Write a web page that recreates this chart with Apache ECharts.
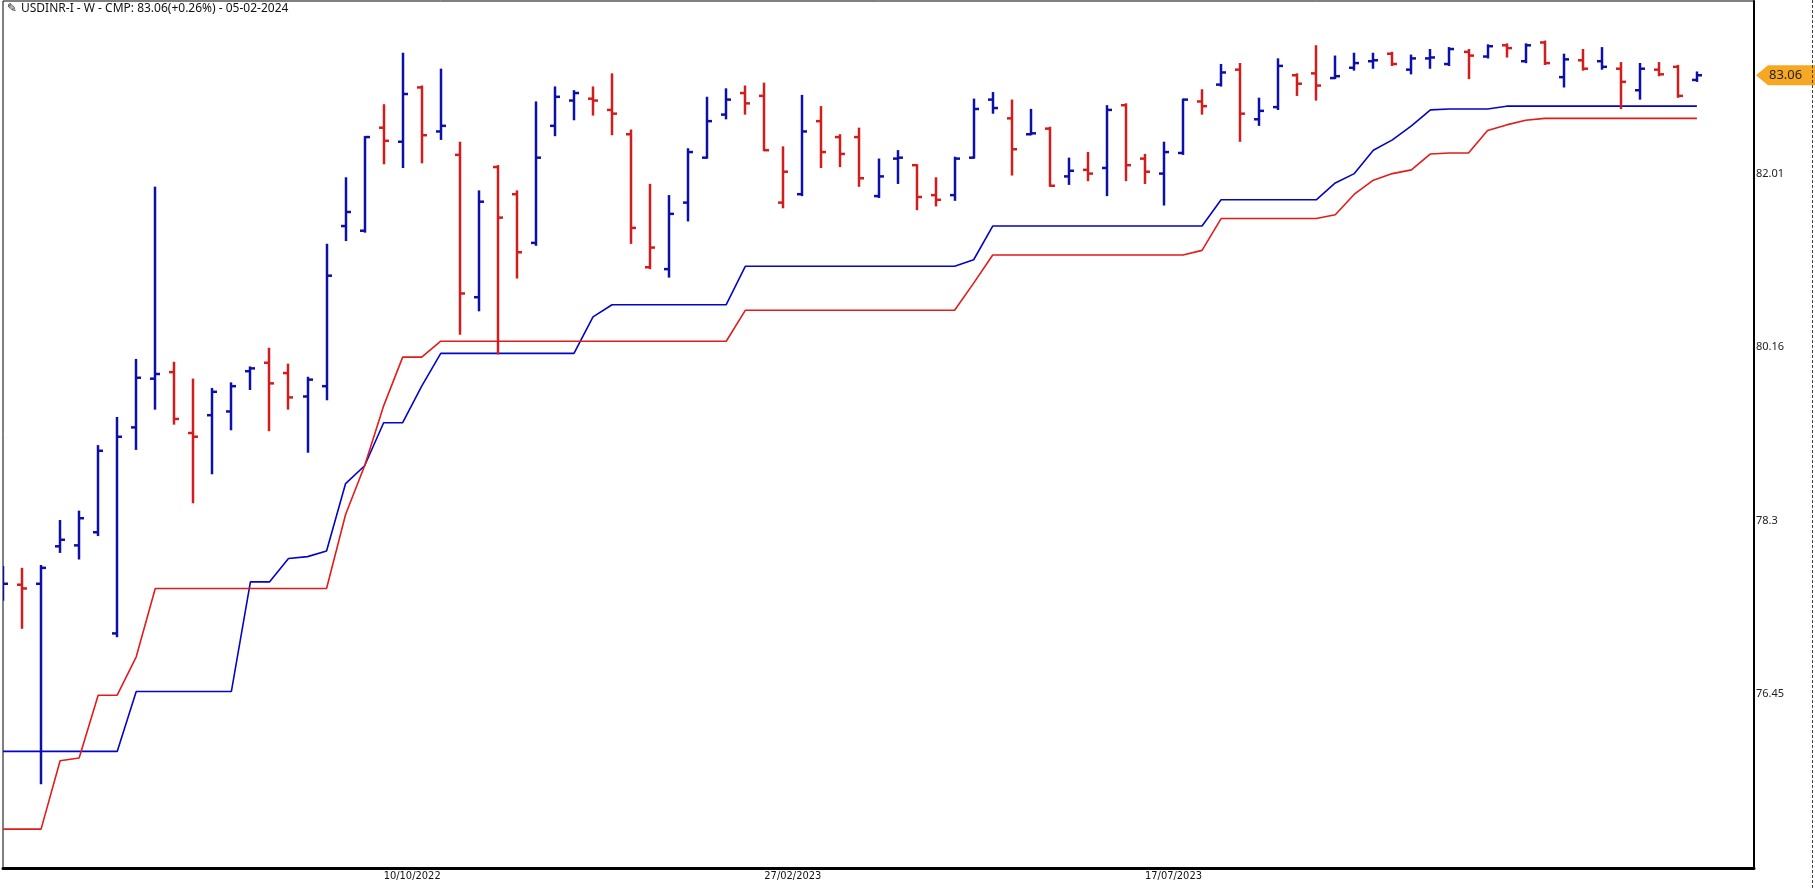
<!DOCTYPE html>
<html>
<head>
<meta charset="utf-8">
<title>USDINR-I - W</title>
<script src="https://cdn.jsdelivr.net/npm/echarts@6/dist/echarts.min.js"></script>
<style>
html, body { margin: 0; padding: 0; background: #fff; }
#main { width: 1815px; height: 890px; }
</style>
</head>
<body>
<div id="main"></div>
<script>
// weekly OHLC, first bar = week of 23/05/2022
var opens = [77.55, 77.62, 77.63, 78.03, 78.04, 78.18, 77.10, 79.30, 79.82, 79.89,
  79.24, 79.43, 79.47, 79.90, 79.99, 79.88, 79.63, 79.74, 81.45, 81.40,
  82.50, 82.35, 82.93, 82.46, 82.21, 80.69, 82.08, 81.79, 81.27, 82.52,
  82.79, 82.81, 82.69, 82.43, 81.01, 80.99, 81.70, 82.18, 82.64, 82.87,
  82.84, 81.70, 81.79, 82.57, 82.40, 82.40, 81.77, 82.17, 82.10, 81.78,
  81.78, 82.18, 82.80, 82.60, 82.43, 82.49, 81.98, 82.05, 82.07, 82.74,
  82.17, 82.01, 82.23, 82.78, 82.96, 83.12, 82.59, 82.72, 83.06, 83.08,
  83.03, 83.14, 83.21, 83.29, 83.12, 83.24, 83.18, 83.31, 83.26, 83.38,
  83.21, 83.41, 83.04, 83.22, 83.21, 83.13, 82.90, 83.12, 83.15, 83.01];
var highs = [77.81, 77.79, 77.82, 78.30, 78.40, 79.10, 79.40, 80.02, 81.86, 79.99,
  79.81, 79.71, 79.77, 79.94, 80.14, 79.97, 79.83, 81.25, 81.96, 82.40,
  82.74, 83.29, 82.94, 83.12, 82.34, 81.82, 82.09, 81.82, 82.77, 82.93,
  82.89, 82.93, 83.07, 82.47, 81.89, 81.77, 82.27, 82.82, 82.91, 82.94,
  82.97, 82.29, 82.84, 82.72, 82.42, 82.49, 82.16, 82.25, 82.10, 81.96,
  82.18, 82.80, 82.87, 82.79, 82.69, 82.50, 82.17, 82.23, 82.73, 82.75,
  82.21, 82.34, 82.80, 82.90, 83.17, 83.18, 82.81, 83.23, 83.07, 83.37,
  83.26, 83.29, 83.29, 83.30, 83.27, 83.33, 83.35, 83.33, 83.38, 83.39,
  83.39, 83.42, 83.28, 83.33, 83.35, 83.19, 83.18, 83.19, 83.16, 83.09];
var lows = [77.46, 77.16, 75.50, 77.97, 77.90, 78.15, 77.07, 79.07, 79.50, 79.34,
  78.50, 78.81, 79.28, 79.71, 79.27, 79.50, 79.04, 79.60, 81.30, 81.39,
  82.12, 82.08, 82.13, 82.38, 80.30, 80.55, 80.09, 80.90, 81.25, 82.42,
  82.59, 82.64, 82.43, 81.27, 81.00, 80.91, 81.51, 82.18, 82.60, 82.65,
  82.26, 81.65, 81.78, 82.08, 82.09, 81.88, 81.76, 81.91, 81.63, 81.67,
  81.73, 82.18, 82.66, 82.00, 82.43, 81.88, 81.90, 81.94, 81.78, 81.94,
  81.91, 81.68, 82.22, 82.65, 82.95, 82.36, 82.53, 82.70, 82.85, 82.80,
  83.03, 83.12, 83.14, 83.17, 83.08, 83.14, 83.17, 83.03, 83.25, 83.26,
  83.20, 83.18, 82.94, 83.12, 83.13, 82.71, 82.81, 83.06, 82.83, 83.00];
var closes = [77.63, 77.58, 77.80, 78.10, 78.33, 79.05, 79.20, 79.83, 79.87, 79.39,
  79.20, 79.68, 79.74, 79.93, 79.77, 79.62, 79.81, 80.92, 81.60, 82.40,
  82.36, 82.86, 82.42, 82.52, 80.73, 81.71, 81.54, 81.17, 82.18, 82.83,
  82.87, 82.79, 82.65, 81.43, 81.22, 81.58, 82.24, 82.57, 82.80, 82.76,
  82.26, 82.03, 82.46, 82.24, 82.22, 81.96, 81.98, 82.18, 81.76, 81.73,
  82.17, 82.70, 82.71, 82.27, 82.44, 81.88, 82.04, 82.01, 82.69, 82.10,
  82.03, 82.24, 82.80, 82.73, 83.09, 82.65, 82.68, 83.16, 82.97, 82.95,
  83.05, 83.19, 83.22, 83.18, 83.24, 83.25, 83.34, 83.27, 83.37, 83.35,
  83.38, 83.19, 83.23, 83.13, 83.15, 82.99, 83.13, 83.07, 82.84, 83.06];
// blue and red step lines
var blueLine = [75.84, 75.84, 75.84, 75.84, 75.84, 75.84, 75.84, 76.48, 76.48, 76.48,
  76.48, 76.48, 76.48, 77.65, 77.65, 77.90, 77.92, 77.98, 78.70, 78.89,
  79.35, 79.35, 79.74, 80.09, 80.09, 80.09, 80.09, 80.09, 80.09, 80.09,
  80.09, 80.48, 80.61, 80.61, 80.61, 80.61, 80.61, 80.61, 80.61, 81.02,
  81.02, 81.02, 81.02, 81.02, 81.02, 81.02, 81.02, 81.02, 81.02, 81.02,
  81.02, 81.09, 81.45, 81.45, 81.45, 81.45, 81.45, 81.45, 81.45, 81.45,
  81.45, 81.45, 81.45, 81.45, 81.73, 81.73, 81.73, 81.73, 81.73, 81.73,
  81.91, 82.01, 82.26, 82.37, 82.52, 82.69, 82.70, 82.70, 82.70, 82.73,
  82.73, 82.73, 82.73, 82.73, 82.73, 82.73, 82.73, 82.73, 82.73, 82.73];
var redLine = [75.01, 75.01, 75.01, 75.74, 75.77, 76.44, 76.44, 76.85, 77.58, 77.58,
  77.58, 77.58, 77.58, 77.58, 77.58, 77.58, 77.58, 77.58, 78.37, 78.89,
  79.53, 80.05, 80.05, 80.22, 80.22, 80.22, 80.22, 80.22, 80.22, 80.22,
  80.22, 80.22, 80.22, 80.22, 80.22, 80.22, 80.22, 80.22, 80.22, 80.55,
  80.55, 80.55, 80.55, 80.55, 80.55, 80.55, 80.55, 80.55, 80.55, 80.55,
  80.55, 80.84, 81.14, 81.14, 81.14, 81.14, 81.14, 81.14, 81.14, 81.14,
  81.14, 81.14, 81.14, 81.19, 81.53, 81.53, 81.53, 81.53, 81.53, 81.53,
  81.57, 81.79, 81.94, 82.01, 82.05, 82.22, 82.23, 82.23, 82.47, 82.53,
  82.58, 82.60, 82.60, 82.60, 82.60, 82.60, 82.60, 82.60, 82.60, 82.60];
var xLabels = ['10/10/2022', '27/02/2023', '17/07/2023'];
var yTicks = [76.45, 78.3, 80.16, 82.01];
var lastPrice = 83.06;
var titleText = 'USDINR-I - W - CMP: 83.06(+0.26%) - 05-02-2024';

var BAR_BLUE = '#0c10a6';
var BAR_RED = '#d11d1d';
var LINE_BLUE = '#0505c4';
var LINE_RED = '#e31b1b';

function pad(n) { return n < 10 ? '0' + n : '' + n; }
var dates = [];
for (var i = 0; i < closes.length; i++) {
  var d = new Date(2022, 4, 23 + 7 * i);
  dates.push(pad(d.getDate()) + '/' + pad(d.getMonth() + 1) + '/' + d.getFullYear());
}

// bar colour follows close vs previous close
var barData = [];
for (var i = 0; i < closes.length; i++) {
  var up = i === 0 ? closes[i] >= opens[i] : closes[i] >= closes[i - 1];
  barData.push([i, opens[i], highs[i], lows[i], closes[i], up ? 1 : 0]);
}

function renderBar(params, api) {
  var i = api.value(0);
  var pO = api.coord([i, api.value(1)]);
  var pH = api.coord([i, api.value(2)]);
  var pL = api.coord([i, api.value(3)]);
  var pC = api.coord([i, api.value(4)]);
  var color = api.value(5) ? BAR_BLUE : BAR_RED;
  var x = Math.round(pH[0]);
  var style = { stroke: color, lineWidth: 2.5 };
  return {
    type: 'group',
    children: [
      { type: 'line', shape: { x1: x, y1: pH[1] - 1, x2: x, y2: pL[1] + 1 }, style: style },
      { type: 'line', shape: { x1: x - 5, y1: pO[1], x2: x, y2: pO[1] }, style: style },
      { type: 'line', shape: { x1: x, y1: pC[1], x2: x + 5, y2: pC[1] }, style: style }
    ]
  };
}

var chart = echarts.init(document.getElementById('main'));
chart.setOption({
  animation: false,
  backgroundColor: '#fff',
  grid: {
    left: 1, top: 1, right: 61, bottom: 22,
    show: true, borderColor: '#000', borderWidth: 1
  },
  xAxis: {
    type: 'category',
    data: dates,
    boundaryGap: false,
    max: 92,
    axisLine: { show: true, lineStyle: { color: '#000', width: 3 } },
    axisTick: { show: false },
    splitLine: { show: false },
    axisLabel: {
      interval: 0,
      hideOverlap: false,
      showMinLabel: false,
      showMaxLabel: false,
      formatter: function (val) { return xLabels.indexOf(val) >= 0 ? val : ''; },
      align: 'left',
      margin: 3,
      color: '#111',
      fontSize: 11,
      fontFamily: 'Liberation Sans Narrow, DejaVu Sans Condensed, sans-serif'
    }
  },
  yAxis: {
    type: 'value',
    position: 'right',
    min: 74.595,
    max: 83.853,
    scale: true,
    axisLine: { show: true, lineStyle: { color: '#000', width: 2 } },
    axisTick: { show: false },
    splitLine: { show: false },
    axisLabel: {
      customValues: yTicks,
      margin: 2,
      color: '#222',
      fontSize: 11,
      fontFamily: 'Noto Sans, sans-serif'
    }
  },
  series: [
    {
      name: 'upper', type: 'line', data: blueLine,
      showSymbol: false, silent: true, z: 2,
      lineStyle: { color: LINE_BLUE, width: 1.6 }
    },
    {
      name: 'lower', type: 'line', data: redLine,
      showSymbol: false, silent: true, z: 2,
      lineStyle: { color: LINE_RED, width: 1.6 }
    },
    {
      name: 'USDINR-I', type: 'custom', renderItem: renderBar,
      data: barData, clip: true, z: 5,
      encode: { x: 0, y: [1, 2, 3, 4] }
    }
  ]
});

// price tag on the right axis
var tagY = chart.convertToPixel({ yAxisIndex: 0 }, lastPrice);
chart.setOption({
  graphic: [
    {
      type: 'text', left: 7, top: 3,
      style: { text: '\u270E', font: '12px DejaVu Sans', fill: '#111' }
    },
    {
      type: 'text', left: 21, top: 3,
      style: { text: titleText, font: '12px Noto Sans', fill: '#111' }
    },
    {
      type: 'polygon',
      shape: { points: [[1756, tagY], [1768, tagY - 10], [1815, tagY - 10], [1815, tagY + 10], [1768, tagY + 10]] },
      style: { fill: '#f7a823' }
    },
    {
      type: 'text', x: 1769, y: tagY,
      style: { text: lastPrice.toFixed(2), font: '13px Noto Sans', fill: '#222', textVerticalAlign: 'middle' }
    },
    {
      type: 'line',
      shape: { x1: 1812.5, y1: 0, x2: 1812.5, y2: 890 },
      style: { stroke: '#444', lineWidth: 1, lineDash: [3, 2] }
    }
  ]
});
</script>
</body>
</html>
